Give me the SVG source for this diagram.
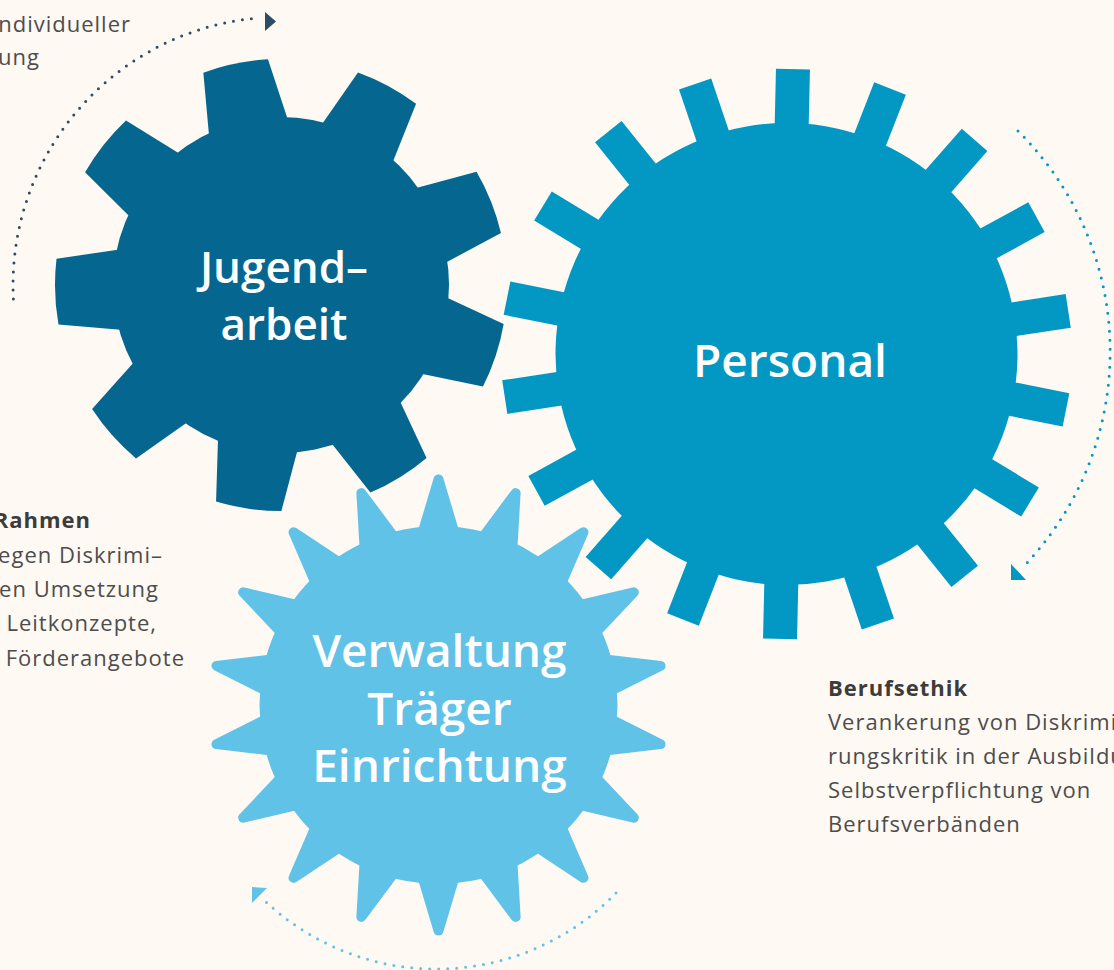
<svg xmlns="http://www.w3.org/2000/svg" width="1114" height="970" viewBox="0 0 1114 970">
<defs>
<style>
.label{font-family:"Open Sans","Liberation Sans",sans-serif;font-weight:600;fill:#ffffff;text-anchor:middle}
.body{font-family:"Open Sans","Liberation Sans",sans-serif;font-size:22px;fill:#4d4d4d;letter-spacing:1px}
.head{font-weight:700;fill:#3c3c3c}
.end{text-anchor:end}
.dots{fill:none;stroke-linecap:round;stroke-dasharray:0 9;stroke-width:3}
</style>
<path id="t1" d="M -41.4 -150 L -33 -223.6 A 226 226 0 0 1 33 -223.6 L 41.4 -150 Z"/>
<rect id="t2" x="-17" y="-285" width="34" height="70"/>
<path id="t3" d="M -23.3 -165 L -4.79 -226.9 A 5 5 0 0 1 4.79 -226.9 L 23.3 -165 Z"/>
</defs>
<rect width="1114" height="970" fill="#fef9f3"/>

<g id="gear-jugendarbeit">
<g fill="#05668f" transform="translate(281 285) rotate(-11.7)">
<circle r="168"/>
<use href="#t1"/>
<use href="#t1" transform="rotate(40)"/>
<use href="#t1" transform="rotate(80)"/>
<use href="#t1" transform="rotate(120)"/>
<use href="#t1" transform="rotate(160)"/>
<use href="#t1" transform="rotate(200)"/>
<use href="#t1" transform="rotate(240)"/>
<use href="#t1" transform="rotate(280)"/>
<use href="#t1" transform="rotate(320)"/>
</g>
<text class="label" font-size="44" x="284" y="283">Jugend–</text>
<text class="label" font-size="44" x="284" y="340">arbeit</text>
</g>

<g id="gear-personal">
<g fill="#0298c3" transform="translate(786.5 354) rotate(1.3)">
<circle r="231"/>
<use href="#t2"/>
<use href="#t2" transform="rotate(20)"/>
<use href="#t2" transform="rotate(40)"/>
<use href="#t2" transform="rotate(60)"/>
<use href="#t2" transform="rotate(80)"/>
<use href="#t2" transform="rotate(100)"/>
<use href="#t2" transform="rotate(120)"/>
<use href="#t2" transform="rotate(140)"/>
<use href="#t2" transform="rotate(160)"/>
<use href="#t2" transform="rotate(180)"/>
<use href="#t2" transform="rotate(200)"/>
<use href="#t2" transform="rotate(220)"/>
<use href="#t2" transform="rotate(240)"/>
<use href="#t2" transform="rotate(260)"/>
<use href="#t2" transform="rotate(280)"/>
<use href="#t2" transform="rotate(300)"/>
<use href="#t2" transform="rotate(320)"/>
<use href="#t2" transform="rotate(340)"/>
</g>
<text class="label" font-size="46" x="790" y="377">Personal</text>
</g>

<g id="gear-verwaltung">
<g fill="#61c2e7" transform="translate(438.5 705)">
<circle r="179"/>
<use href="#t3"/>
<use href="#t3" transform="rotate(20)"/>
<use href="#t3" transform="rotate(40)"/>
<use href="#t3" transform="rotate(60)"/>
<use href="#t3" transform="rotate(80)"/>
<use href="#t3" transform="rotate(100)"/>
<use href="#t3" transform="rotate(120)"/>
<use href="#t3" transform="rotate(140)"/>
<use href="#t3" transform="rotate(160)"/>
<use href="#t3" transform="rotate(180)"/>
<use href="#t3" transform="rotate(200)"/>
<use href="#t3" transform="rotate(220)"/>
<use href="#t3" transform="rotate(240)"/>
<use href="#t3" transform="rotate(260)"/>
<use href="#t3" transform="rotate(280)"/>
<use href="#t3" transform="rotate(300)"/>
<use href="#t3" transform="rotate(320)"/>
<use href="#t3" transform="rotate(340)"/>
</g>
<text class="label" font-size="46" x="439.5" y="667">Verwaltung</text>
<text class="label" font-size="46" x="439.5" y="725">Träger</text>
<text class="label" font-size="46" x="439.5" y="782">Einrichtung</text>
</g>

<g id="connectors">
<path class="dots" stroke="#2c4d64" d="M 13.4 299 A 268 268 0 0 1 257.6 18"/>
<polygon fill="#2c4d64" points="265,12 276,21.5 265,31"/>
<path class="dots" stroke="#0298c3" d="M 1018 131 A 310 310 0 0 1 1023 567"/>
<polygon fill="#0298c3" points="1011,564 1011,580 1026,580"/>
<path class="dots" stroke="#61c2e7" d="M 616 893 A 250 250 0 0 1 265 901"/>
<polygon fill="#61c2e7" points="252,887 267,888 252,903"/>
</g>

<g id="text-top-left">
<text class="body end" x="131" y="32">ndividueller</text>
<text class="body end" x="40" y="65">ung</text>
</g>

<g id="text-rahmen">
<text class="body head end" x="91" y="528">Rahmen</text>
<text class="body end" x="163" y="563">gegen Diskrimi–</text>
<text class="body end" x="159" y="597">en Umsetzung</text>
<text class="body end" x="157" y="631">Leitkonzepte,</text>
<text class="body end" x="185" y="666">Förderangebote</text>
</g>

<g id="text-berufsethik">
<text class="body head" x="828" y="696">Berufsethik</text>
<text class="body" x="828" y="730">Verankerung von Diskrimi</text>
<text class="body" x="828" y="764">rungskritik in der Ausbildu</text>
<text class="body" x="828" y="798">Selbstverpflichtung von</text>
<text class="body" x="828" y="832">Berufsverbänden</text>
</g>
</svg>
